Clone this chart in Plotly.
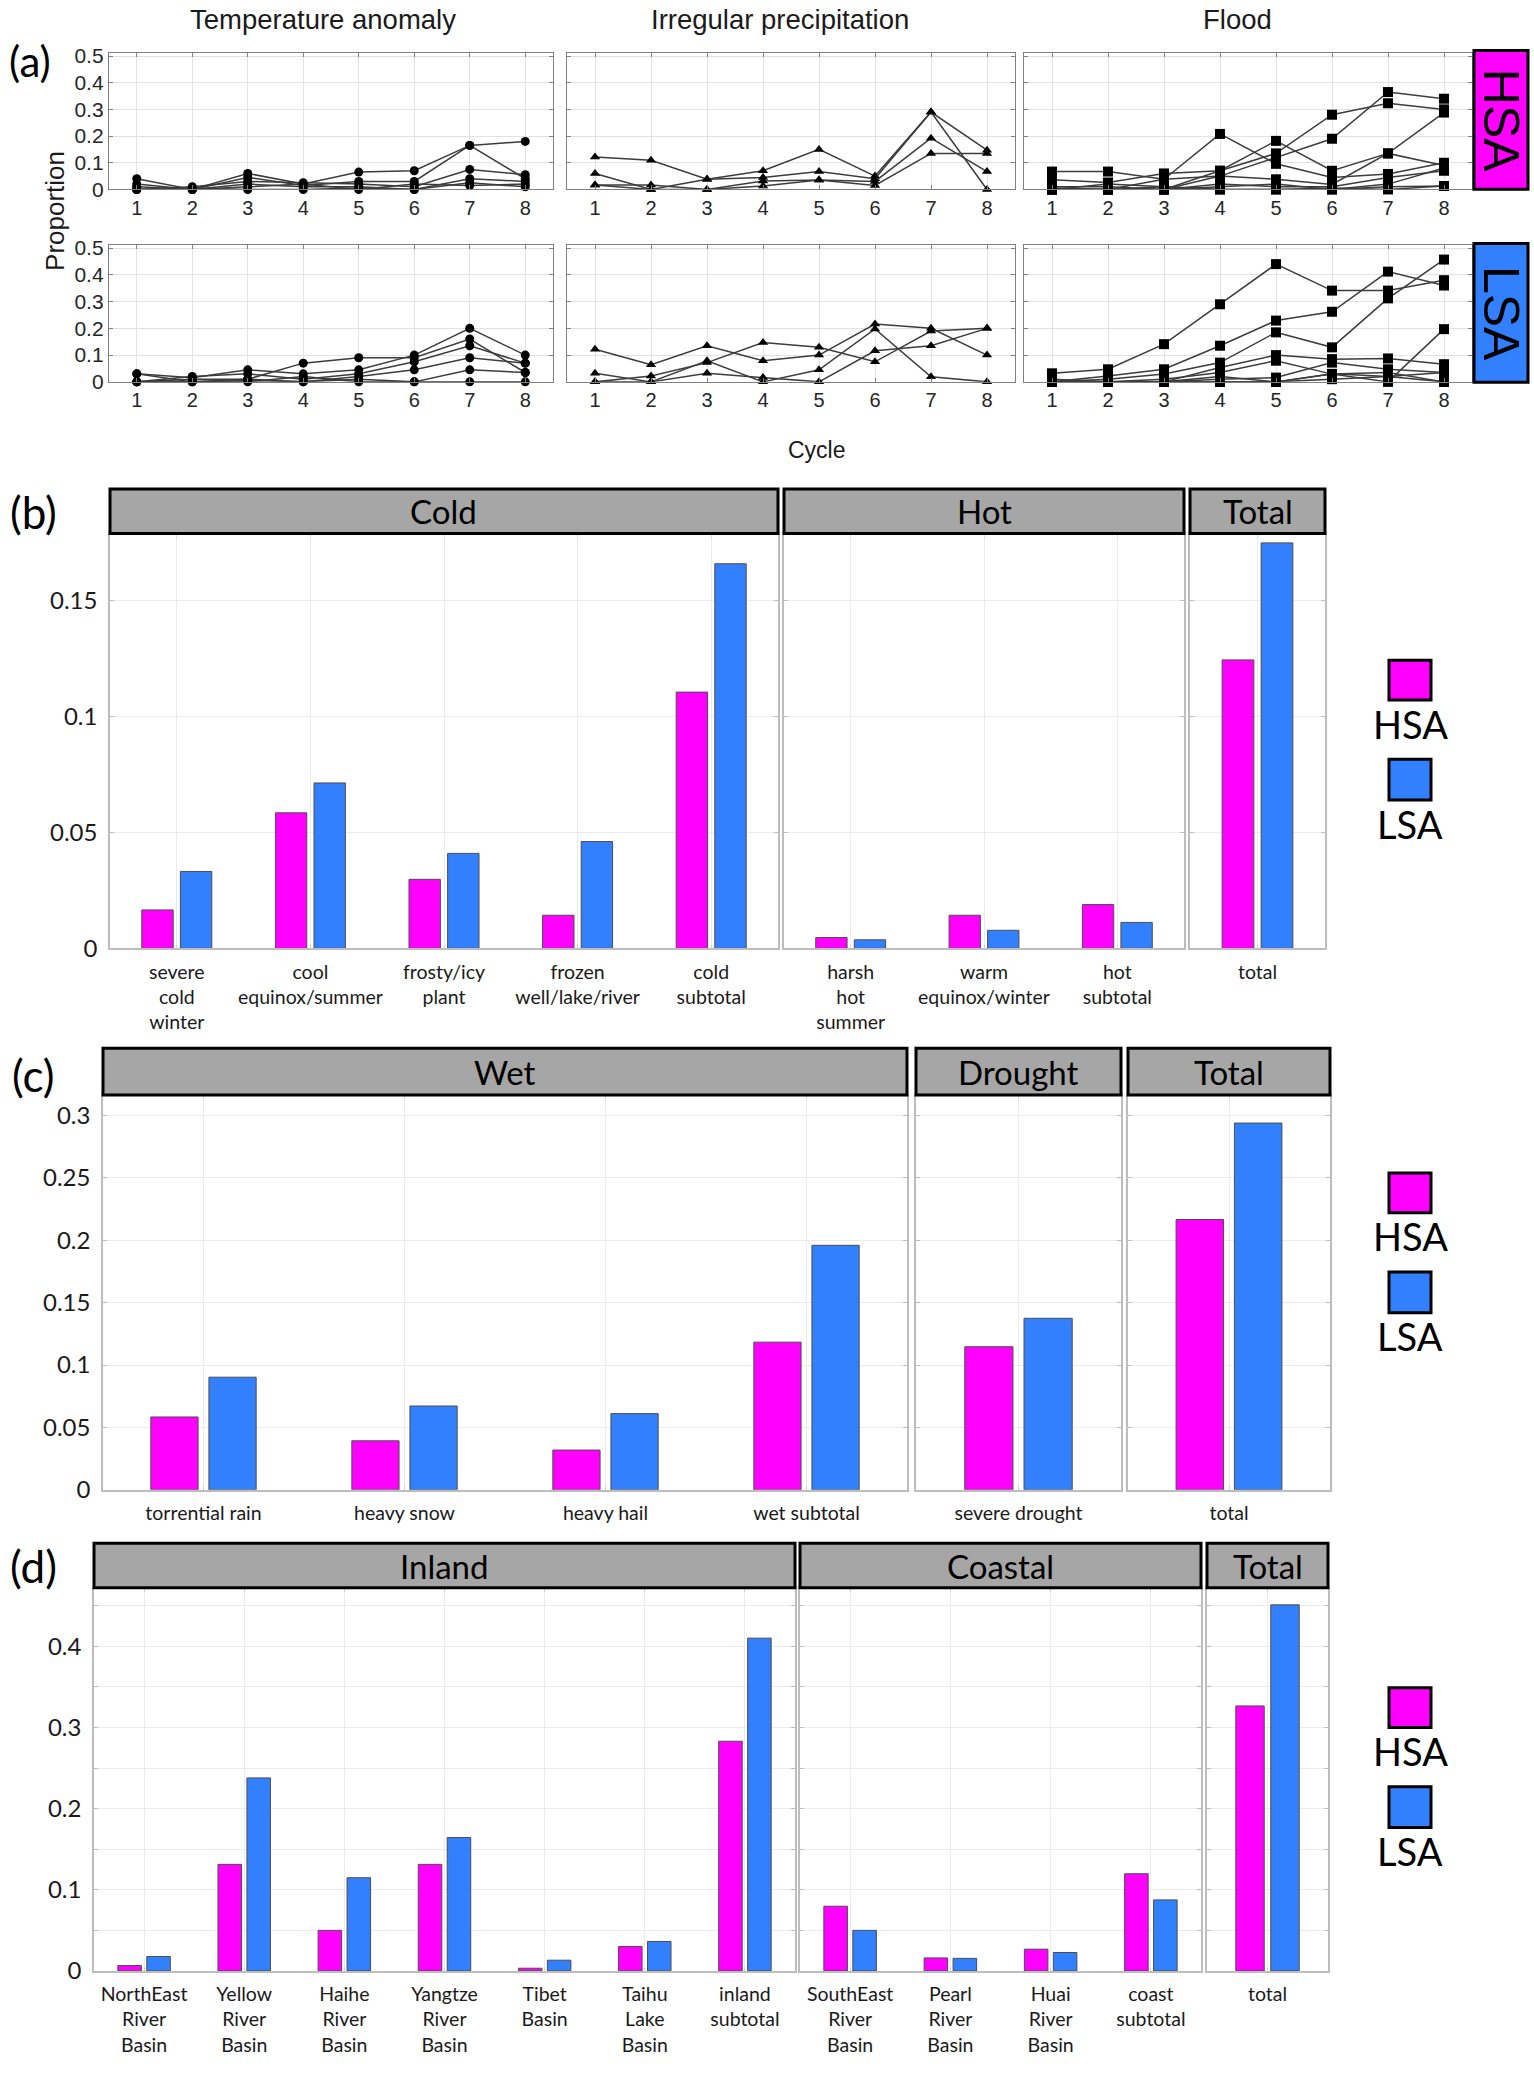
import plotly.graph_objects as go

W, H = 1534, 2073

# ---------------- data: panel (a) ----------------
cycles = [1, 2, 3, 4, 5, 6, 7, 8]

temp_hsa = [
    [0.04, 0.0, 0.06, 0.02, 0.065, 0.07, 0.165, 0.18],
    [0.02, 0.0, 0.045, 0.015, 0.03, 0.03, 0.165, 0.04],
    [0.0, 0.01, 0.03, 0.025, 0.02, 0.01, 0.075, 0.055],
    [0.01, 0.0, 0.02, 0.01, 0.01, 0.0, 0.04, 0.03],
    [0.0, 0.005, 0.0, 0.0, 0.005, 0.0, 0.025, 0.01],
    [0.0, 0.0, 0.01, 0.02, 0.0, 0.02, 0.015, 0.02],
]
prec_hsa = [
    [0.122, 0.109, 0.038, 0.07, 0.15, 0.05, 0.29, 0.147],
    [0.06, 0.0, 0.038, 0.045, 0.067, 0.04, 0.29, 0.0],
    [0.017, 0.0, 0.0, 0.032, 0.035, 0.03, 0.192, 0.067],
    [0.017, 0.017, 0.0, 0.013, 0.035, 0.015, 0.135, 0.135],
]
flood_hsa = [
    [0.0, 0.0, 0.0, 0.07, 0.135, 0.28, 0.323, 0.30],
    [0.0, 0.0, 0.0, 0.05, 0.12, 0.19, 0.365, 0.34],
    [0.067, 0.067, 0.038, 0.208, 0.096, 0.045, 0.058, 0.10],
    [0.036, 0.026, 0.06, 0.07, 0.182, 0.07, 0.135, 0.288],
    [0.0, 0.0, 0.038, 0.05, 0.038, 0.019, 0.135, 0.09],
    [0.01, 0.01, 0.0, 0.02, 0.01, 0.01, 0.045, 0.07],
    [0.0, 0.02, 0.01, 0.0, 0.0, 0.0, 0.02, 0.08],
    [0.0, 0.0, 0.0, 0.01, 0.02, 0.0, 0.01, 0.013],
    [0.005, 0.0, 0.01, 0.0, 0.0, 0.005, 0.0, 0.013],
]
temp_lsa = [
    [0.03, 0.015, 0.045, 0.03, 0.045, 0.1, 0.2, 0.1],
    [0.0, 0.0, 0.01, 0.07, 0.09, 0.09, 0.16, 0.035],
    [0.0, 0.02, 0.03, 0.01, 0.03, 0.075, 0.135, 0.07],
    [0.0, 0.01, 0.01, 0.0, 0.02, 0.045, 0.09, 0.07],
    [0.03, 0.0, 0.0, 0.02, 0.0, 0.0, 0.045, 0.035],
    [0.0, 0.0, 0.005, 0.0, 0.01, 0.0, 0.0, 0.0],
]
prec_lsa = [
    [0.122, 0.064, 0.135, 0.079, 0.1, 0.216, 0.2, 0.1],
    [0.0, 0.022, 0.072, 0.147, 0.129, 0.075, 0.19, 0.2],
    [0.032, 0.0, 0.079, 0.0, 0.045, 0.198, 0.019, 0.0],
    [0.0, 0.0, 0.032, 0.016, 0.0, 0.116, 0.135, 0.2],
]
flood_lsa = [
    [0.032, 0.047, 0.141, 0.29, 0.44, 0.341, 0.341, 0.38],
    [0.0, 0.022, 0.047, 0.135, 0.229, 0.262, 0.412, 0.36],
    [0.0, 0.01, 0.029, 0.072, 0.185, 0.129, 0.312, 0.457],
    [0.0, 0.0, 0.0, 0.054, 0.1, 0.085, 0.0875, 0.066],
    [0.01, 0.0, 0.01, 0.035, 0.079, 0.029, 0.035, 0.0],
    [0.0, 0.0, 0.0, 0.01, 0.016, 0.072, 0.047, 0.035],
    [0.0, 0.0, 0.0, 0.0, 0.0, 0.029, 0.0, 0.197],
    [0.0, 0.0, 0.0, 0.0, 0.0, 0.01, 0.02, 0.035],
    [0.0, 0.0, 0.0, 0.02, 0.0, 0.03, 0.02, 0.0],
]
line_titles = ["Temperature anomaly", "Irregular precipitation", "Flood"]
line_yticks = [0, 0.1, 0.2, 0.3, 0.4, 0.5]

# ---------------- data: panel (b) ----------------
cold_cats = ["severe cold winter", "cool equinox/summer", "frosty/icy plant",
             "frozen well/lake/river", "cold subtotal"]
cold_labels = ["severe<br>cold<br>winter", "cool<br>equinox/summer", "frosty/icy<br>plant",
               "frozen<br>well/lake/river", "cold<br>subtotal"]
cold_hsa = [0.0166, 0.0585, 0.0298, 0.0143, 0.1106]
cold_lsa = [0.0332, 0.0714, 0.0410, 0.0461, 0.1660]
hot_cats = ["harsh hot summer", "warm equinox/winter", "hot subtotal"]
hot_labels = ["harsh<br>hot<br>summer", "warm<br>equinox/winter", "hot<br>subtotal"]
hot_hsa = [0.0047, 0.0143, 0.0189]
hot_lsa = [0.0037, 0.0078, 0.0112]
tempt_cats = ["total"]
tempt_hsa = [0.1245]
tempt_lsa = [0.1750]
b_yticks = [0, 0.05, 0.1, 0.15]

# ---------------- data: panel (c) ----------------
wet_cats = ["torrential rain", "heavy snow", "heavy hail", "wet subtotal"]
wet_hsa = [0.0584, 0.0393, 0.0319, 0.1184]
wet_lsa = [0.0903, 0.0672, 0.0611, 0.1960]
drought_cats = ["severe drought"]
drought_hsa = [0.1147]
drought_lsa = [0.1375]
prect_cats = ["total"]
prect_hsa = [0.2167]
prect_lsa = [0.2940]
c_yticks = [0, 0.05, 0.1, 0.15, 0.2, 0.25, 0.3]

# ---------------- data: panel (d) ----------------
inland_cats = ["NorthEast River Basin", "Yellow River Basin", "Haihe River Basin",
               "Yangtze River Basin", "Tibet Basin", "Taihu Lake Basin", "inland subtotal"]
inland_labels = ["NorthEast<br>River<br>Basin", "Yellow<br>River<br>Basin", "Haihe<br>River<br>Basin",
                 "Yangtze<br>River<br>Basin", "Tibet<br>Basin", "Taihu<br>Lake<br>Basin", "inland<br>subtotal"]
inland_hsa = [0.0066, 0.1313, 0.0500, 0.1313, 0.0033, 0.0301, 0.2830]
inland_lsa = [0.0178, 0.2378, 0.1148, 0.1643, 0.0132, 0.0363, 0.4100]
coast_cats = ["SouthEast River Basin", "Pearl River Basin", "Huai River Basin", "coast subtotal"]
coast_labels = ["SouthEast<br>River<br>Basin", "Pearl<br>River<br>Basin", "Huai<br>River<br>Basin",
                "coast<br>subtotal"]
coast_hsa = [0.0797, 0.0160, 0.0268, 0.1197]
coast_lsa = [0.0500, 0.0155, 0.0227, 0.0875]
floodt_cats = ["total"]
floodt_hsa = [0.3265]
floodt_lsa = [0.4510]
d_yticks = [0, 0.1, 0.2, 0.3, 0.4]

# ---------------- styling ----------------
MAGENTA = "#FF00FF"
BLUE = "#3380FF"
LINE_FONT = "Liberation Sans, Arial, sans-serif"
BAR_FONT = "Lato, Open Sans, sans-serif"


def xdom(x0, x1):
    return [x0 / W, x1 / W]


def ydom(top, bottom):
    return [1 - bottom / H, 1 - top / H]


fig = go.Figure()
layout = dict(width=W, height=H, autosize=False, margin=dict(l=0, r=0, t=0, b=0),
              paper_bgcolor="white", plot_bgcolor="white", showlegend=False,
              barmode="overlay")
shapes = []
annotations = []


def ann(text, x, y, size, family, color="black", **kw):
    d = dict(text=text, x=x / W, y=1 - y / H, xref="paper", yref="paper", showarrow=False,
             font=dict(size=size, family=family, color=color), xanchor="center", yanchor="middle")
    d.update(kw)
    annotations.append(d)


def box(x0, x1, top, bottom, fill, lw=3):
    shapes.append(dict(type="rect", xref="paper", yref="paper", x0=x0 / W, x1=x1 / W,
                       y0=1 - bottom / H, y1=1 - top / H, fillcolor=fill,
                       line=dict(color="black", width=lw), layer="above"))


def axkey(prefix, i):
    return prefix + ("" if i == 1 else str(i))


def refkey(prefix, i):
    return prefix + ("" if i == 1 else str(i))


ax_counter = [0]

# ---------------- panel (a) ----------------
cols = [(109, 553), (567, 1015), (1024, 1472)]
rows = [(45, 183.3), (239, 377.7)]
row_data = [[temp_hsa, prec_hsa, flood_hsa], [temp_lsa, prec_lsa, flood_lsa]]
symbols = [("circle", 9), ("triangle-up", 9), ("square", 10)]

for r, (top, bot) in enumerate(rows):
    for c, (x0, x1) in enumerate(cols):
        ax_counter[0] += 1
        i = ax_counter[0]
        layout[axkey("xaxis", i)] = dict(
            domain=xdom(x0, x1), anchor=refkey("y", i), range=[0.5, 8.5], tickvals=cycles,
            showgrid=True, gridcolor="#E2E2E2", gridwidth=1, zeroline=False,
            showline=True, linecolor="#808080", linewidth=1.3, mirror="ticks",
            ticks="inside", ticklen=4, tickcolor="#808080",
            tickfont=dict(family=LINE_FONT, size=20, color="#262626"))
        layout[axkey("yaxis", i)] = dict(
            domain=ydom(top, bot), anchor=refkey("x", i), range=[0, 0.513], tickvals=line_yticks,
            showticklabels=(c == 0), showgrid=True, gridcolor="#E2E2E2", gridwidth=1, zeroline=False,
            showline=True, linecolor="#808080", linewidth=1.3, mirror="ticks",
            ticks="inside", ticklen=4, tickcolor="#808080",
            tickfont=dict(family=LINE_FONT, size=21, color="#262626"))
        sym, sz = symbols[c]
        for series in row_data[r][c]:
            fig.add_trace(go.Scatter(
                x=cycles, y=series, mode="lines+markers", cliponaxis=False,
                line=dict(color="#3C3C3C", width=1.5),
                marker=dict(symbol=sym, size=sz, color="black"),
                xaxis=refkey("x", i), yaxis=refkey("y", i), hoverinfo="x+y"))

for t, xc in zip(line_titles, [323, 780, 1237]):
    ann(t, xc, 12, 27.5, LINE_FONT, color="#1a1a1a")
box(1474, 1528, 43, 183, MAGENTA)
box(1474, 1528, 238, 378, BLUE)
ann("HSA", 1501, 113, 50, LINE_FONT, textangle=90)
ann("LSA", 1501, 308, 50, LINE_FONT, textangle=90)
ann("Proportion", 55, 205, 26, LINE_FONT, color="#1a1a1a", textangle=-90)
ann("Cycle", 817, 447, 23, LINE_FONT, color="#1a1a1a")
ann("(a)", 30, 54, 42, BAR_FONT)


# ---------------- bar panels ----------------
def bar_panel(panels, top, bot, yrange, yticks, header_top, legend_y, minor=None):
    for k, (x0, x1, title, cats, labels, hsa, lsa) in enumerate(panels):
        ax_counter[0] += 1
        i = ax_counter[0]
        n = len(cats)
        layout[axkey("xaxis", i)] = dict(
            domain=xdom(x0, x1), anchor=refkey("y", i), type="category",
            categoryorder="array", categoryarray=cats, range=[-0.5, n - 0.5],
            tickvals=cats, ticktext=labels, showgrid=True, gridcolor="#EBEBEB",
            zeroline=False, showline=True, linecolor="#BDBDBD", linewidth=1.5, mirror="ticks",
            ticks="inside", ticklen=4, tickcolor="#CFCFCF", ticklabelstandoff=5,
            tickfont=dict(family=BAR_FONT, size=19.5, color="#1a1a1a"))
        yax = dict(
            domain=ydom(top, bot), anchor=refkey("x", i), range=yrange, tickvals=yticks,
            showticklabels=(k == 0), showgrid=True, gridcolor="#EBEBEB", zeroline=False,
            showline=True, linecolor="#BDBDBD", linewidth=1.5, mirror="ticks",
            ticks="inside", ticklen=4, tickcolor="#BDBDBD", ticklabelstandoff=6,
            tickfont=dict(family=BAR_FONT, size=24, color="#1a1a1a"))
        if minor:
            yax["minor"] = dict(tickvals=minor, showgrid=True, gridcolor="#EBEBEB",
                                ticks="inside", ticklen=4, tickcolor="#BDBDBD")
        layout[axkey("yaxis", i)] = yax
        fig.add_trace(go.Bar(x=cats, y=hsa, width=0.235, offset=-0.262,
                             marker=dict(color=MAGENTA, line=dict(color="#4d4d4d", width=1)),
                             xaxis=refkey("x", i), yaxis=refkey("y", i), name="HSA"))
        fig.add_trace(go.Bar(x=cats, y=lsa, width=0.235, offset=0.027,
                             marker=dict(color=BLUE, line=dict(color="#4d4d4d", width=1)),
                             xaxis=refkey("x", i), yaxis=refkey("y", i), name="LSA"))
        box(x0, x1, header_top, top, "#A6A6A6")
        ann(title, (x0 + x1) / 2, (header_top + top) / 2, 33, BAR_FONT)
    # legend
    ly = legend_y
    box(1389, 1431, ly, ly + 40, MAGENTA)
    ann("HSA", 1410, ly + 64, 38, BAR_FONT)
    box(1389, 1431, ly + 100, ly + 141, BLUE)
    ann("LSA", 1410, ly + 165, 38, BAR_FONT)


bar_panel([
    (110, 778, "Cold", cold_cats, cold_labels, cold_hsa, cold_lsa),
    (784, 1184, "Hot", hot_cats, hot_labels, hot_hsa, hot_lsa),
    (1190, 1325, "Total", tempt_cats, tempt_cats, tempt_hsa, tempt_lsa),
], top=531, bot=950, yrange=[0, 0.179], yticks=b_yticks, header_top=486, legend_y=659)
ann("(b)", 33, 509, 44, BAR_FONT)

bar_panel([
    (103, 907, "Wet", wet_cats, wet_cats, wet_hsa, wet_lsa),
    (916, 1121, "Drought", drought_cats, drought_cats, drought_hsa, drought_lsa),
    (1128, 1330, "Total", prect_cats, prect_cats, prect_hsa, prect_lsa),
], top=1098, bot=1497, yrange=[0, 0.3166], yticks=c_yticks, header_top=1051, legend_y=1177)
ann("(c)", 33, 1078, 44, BAR_FONT)

bar_panel([
    (94, 795, "Inland", inland_cats, inland_labels, inland_hsa, inland_lsa),
    (800, 1201, "Coastal", coast_cats, coast_labels, coast_hsa, coast_lsa),
    (1207, 1328, "Total", floodt_cats, floodt_cats, floodt_hsa, floodt_lsa),
], top=1596, bot=1983, yrange=[0, 0.472], yticks=d_yticks, header_top=1551, legend_y=1697,
    minor=[0.05, 0.15, 0.25, 0.35, 0.45])
ann("(d)", 33, 1574, 44, BAR_FONT)

layout["shapes"] = shapes
layout["annotations"] = annotations
fig.update_layout(**layout)

fig.write_html("out.html", config={"displayModeBar": False},
               post_script="document.body.style.margin='0';document.body.style.overflow='hidden';")
